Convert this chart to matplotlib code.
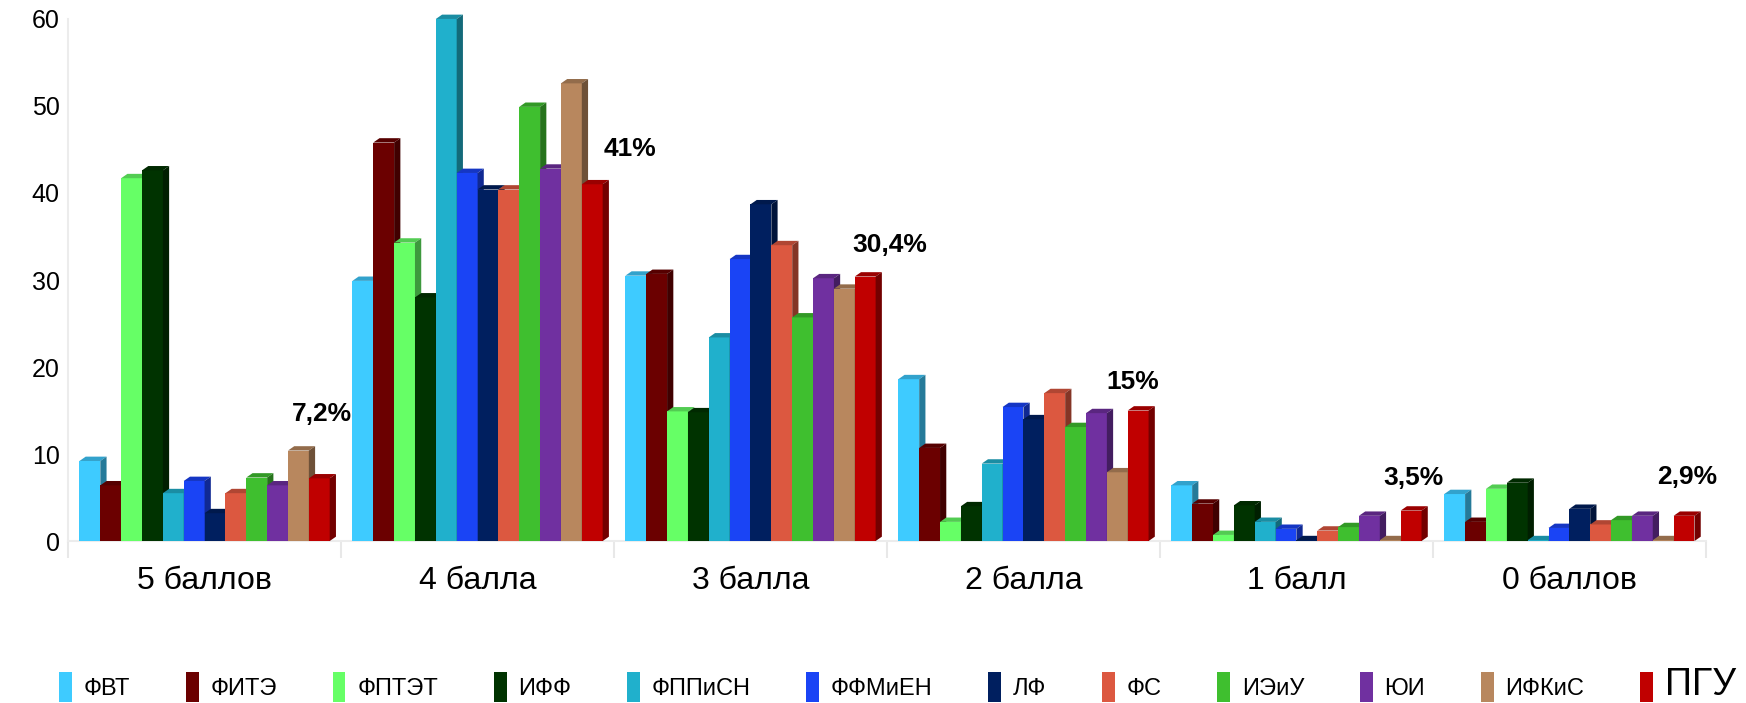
import matplotlib
matplotlib.use("Agg")
import matplotlib.pyplot as plt
from matplotlib.patches import Polygon, Patch
from matplotlib.colors import to_rgb
import numpy as np

# данные с диаграммы (проценты по факультетам)
categories = ["5 баллов", "4 балла", "3 балла", "2 балла", "1 балл", "0 баллов"]
faculties = ["ФВТ", "ФИТЭ", "ФПТЭТ", "ИФФ", "ФППиСН", "ФФМиЕН",
             "ЛФ", "ФС", "ИЭиУ", "ЮИ", "ИФКиС", "ПГУ"]
colors = ["#3ecbff", "#6b0000", "#66ff66", "#003300", "#20b0cc", "#1a44f5",
          "#001f5f", "#dc5840", "#3fbf2f", "#7030a0", "#b8875e", "#c00000"]

fvt = [9.2, 29.9, 30.5, 18.6, 6.4, 5.4]
fite = [6.4, 45.8, 30.7, 10.7, 4.3, 2.2]
fptet = [41.7, 34.3, 14.9, 2.2, 0.7, 6.0]
iff = [42.6, 28.0, 14.8, 4.0, 4.1, 6.7]
fppisn = [5.5, 60.0, 23.4, 8.9, 2.2, 0.1]
ffmien = [6.9, 42.3, 32.4, 15.4, 1.4, 1.5]
lf = [3.2, 40.4, 38.7, 14.0, 0.1, 3.7]
fs = [5.5, 40.4, 34.0, 17.0, 1.2, 1.9]
ieiu = [7.3, 49.9, 25.7, 13.1, 1.6, 2.4]
yui = [6.4, 42.8, 30.2, 14.7, 2.9, 2.9]
ifkis = [10.4, 52.6, 29.0, 7.9, 0.1, 0.1]
pgu = [7.2, 41.0, 30.4, 15.0, 3.5, 2.9]
series = [fvt, fite, fptet, iff, fppisn, ffmien, lf, fs, ieiu, yui, ifkis, pgu]

pgu_labels = ["7,2%", "41%", "30,4%", "15%", "3,5%", "2,9%"]

# положение подписей относительно столбца ПГУ
label_dx = [0.0, 0.13, 0.08, -0.03, 0.0, 0.0]
label_y = [14.6, 45.1, 34.0, 18.3, 7.2, 7.4]

plt.rcParams["font.family"] = ["Liberation Sans", "DejaVu Sans"]

fig = plt.figure(figsize=(17.46, 7.03), dpi=100)
ax = fig.add_axes([0.039, 0.2304, 0.938, 0.7426])

x = np.arange(len(categories))
w = 0.0764
dx = 0.3 * w   # глубина "3D"
dy = 0.5


def shade(c, k):
    r, g, b = to_rgb(c)
    return (r * k, g * k, b * k)


for i, (vals, col) in enumerate(zip(series, colors)):
    xs = x + (i - 5.5) * w
    z = 3 + i * 0.01
    ax.bar(xs, vals, w, color=col, zorder=z, linewidth=0)
    for xc, v in zip(xs, vals):
        x0, x1 = xc - w / 2, xc + w / 2
        top = Polygon([(x0, v), (x0 + dx, v + dy), (x1 + dx, v + dy), (x1, v)],
                      closed=True, color=shade(col, 0.8), lw=0, zorder=z, clip_on=False)
        side = Polygon([(x1, 0), (x1, v), (x1 + dx, v + dy), (x1 + dx, dy)],
                       closed=True, color=shade(col, 0.6), lw=0, zorder=z, clip_on=False)
        ax.add_patch(top)
        ax.add_patch(side)

# подписи для ПГУ
for xc, txt, ox, yy in zip(x + 5.5 * w, pgu_labels, label_dx, label_y):
    ax.text(xc + 0.01 + ox, yy, txt, ha="center", va="center", fontsize=19,
            fontweight="bold", zorder=10)

ax.set_xlim(-0.5, 5.5)
ax.set_ylim(0, 60)
ax.set_yticks(range(0, 61, 10))
ax.tick_params(axis="y", length=0, labelsize=18, pad=6)
ax.set_xticks(x)
ax.set_xticklabels(categories, fontsize=23)
ax.set_xticks(np.arange(-0.5, 6, 1), minor=True)
ax.tick_params(axis="x", which="major", length=0, pad=18)
ax.tick_params(axis="x", which="minor", length=12, color="#e8e8e8", width=1.5)
for s in ["top", "right"]:
    ax.spines[s].set_visible(False)
ax.spines["left"].set_color("#ececec")
ax.spines["left"].set_linewidth(1.5)
ax.spines["bottom"].set_color("#ececec")
ax.spines["bottom"].set_linewidth(1.5)

handles = [Patch(facecolor=c, edgecolor="none") for c in colors]
leg = fig.legend(handles, faculties, loc="lower center", bbox_to_anchor=(0.514, -0.03),
                 ncol=12, frameon=False, fontsize=17, handlelength=0.55,
                 handleheight=1.6, handletextpad=0.5, columnspacing=2.35)
leg.get_texts()[-1].set_fontsize(27)

fig.savefig("out.png", dpi=100)
